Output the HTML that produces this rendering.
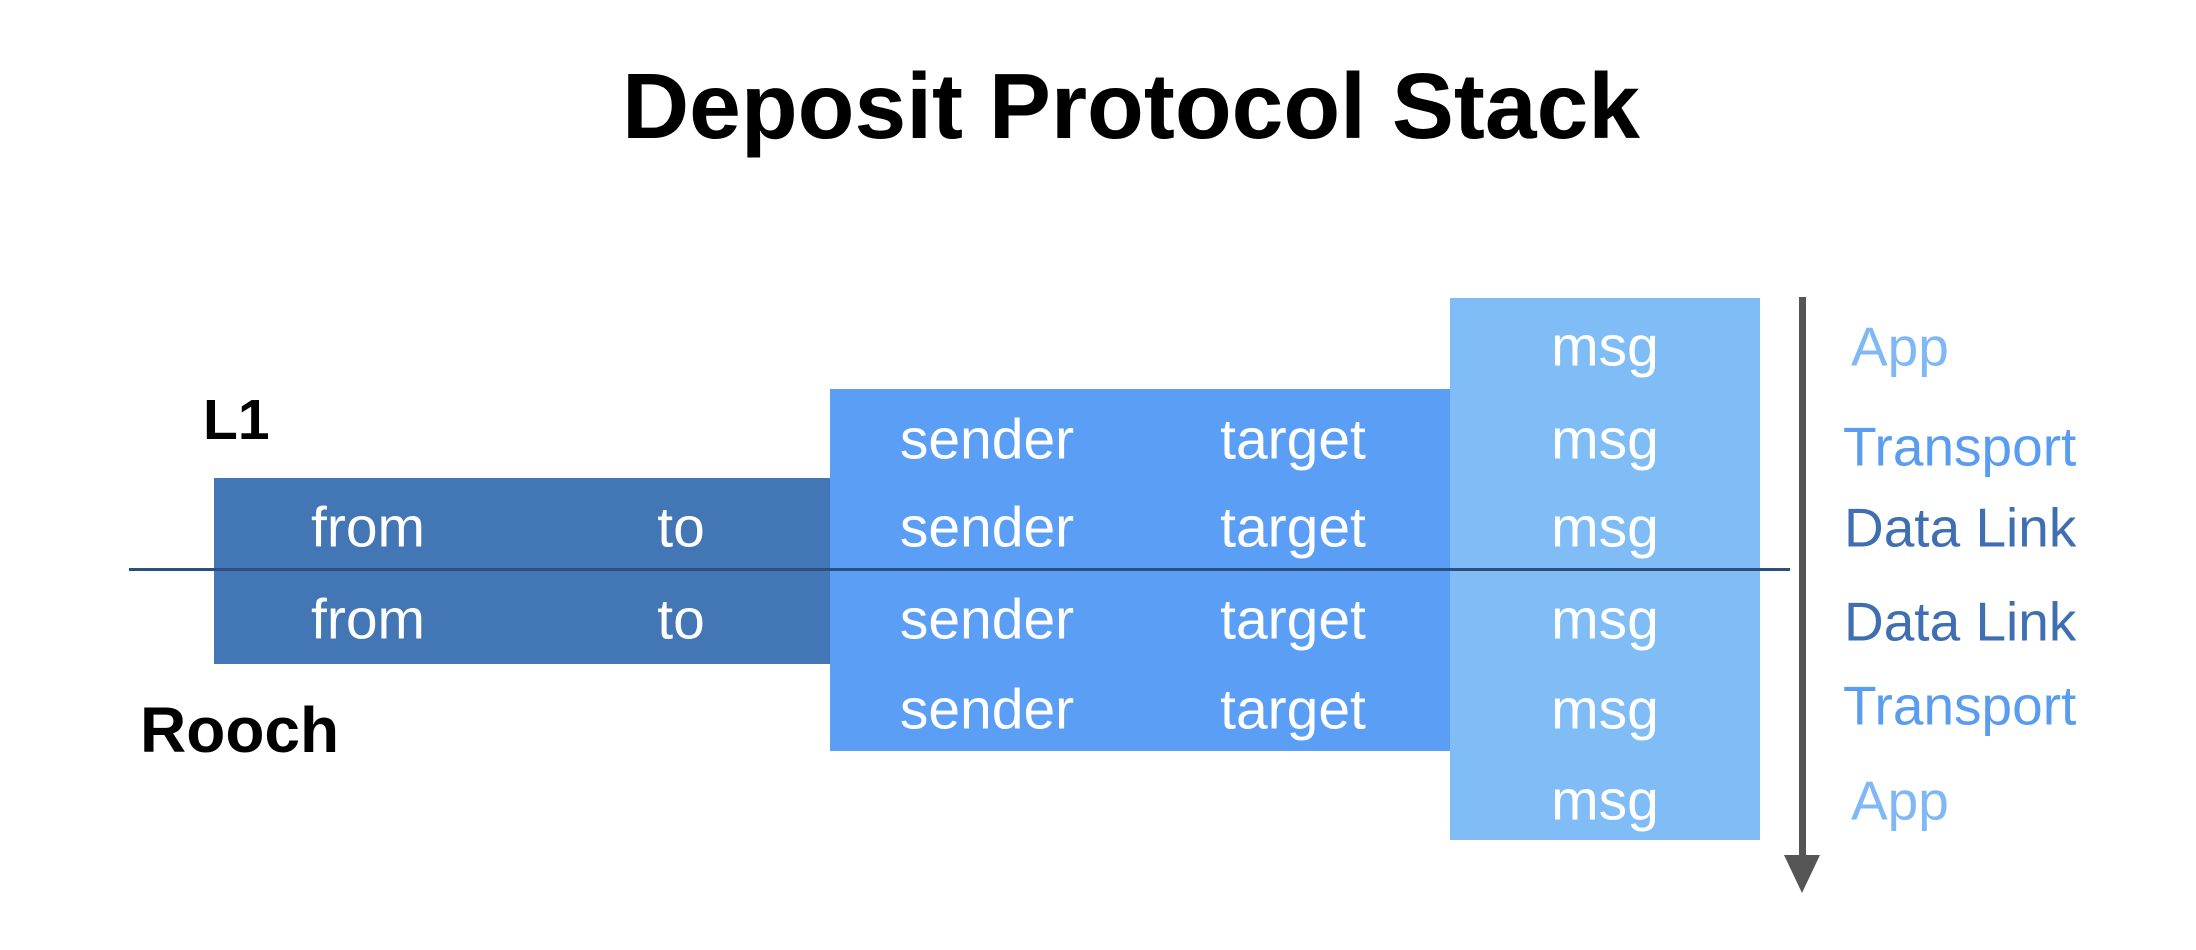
<!DOCTYPE html>
<html><head><meta charset="utf-8"><style>
body{margin:0;width:2196px;height:950px;background:#fff;position:relative;overflow:hidden;font-family:"Liberation Sans",Arial,sans-serif}
div{position:absolute}
.b{position:absolute}
.t{position:absolute;color:#fff;font-size:57px;transform:translate(-50%,-50%);white-space:nowrap;line-height:1}
.r{position:absolute;font-size:55px;transform:translateY(-50%);white-space:nowrap;line-height:1}
</style></head><body>
<div style="left:0;width:2196px;top:56px;text-align:center;font-weight:bold;font-size:93px;line-height:100px;padding-left:66px;box-sizing:border-box">Deposit Protocol Stack</div>
<div style="left:203px;top:390px;font-weight:bold;font-size:57px;line-height:60px">L1</div>
<div style="left:140px;top:699px;font-weight:bold;font-size:64px;line-height:62px">Rooch</div>

<div class="b" style="left:214px;top:478px;width:616px;height:186px;background:#4276b5"></div>
<div class="b" style="left:830px;top:389px;width:620px;height:362px;background:#5b9ef5"></div>
<div class="b" style="left:1450px;top:298px;width:310px;height:542px;background:#80bdf7"></div>
<div class="b" style="left:129px;top:568px;width:1661px;height:3px;background:#2a4f80"></div>

<div class="b" style="left:1799px;top:297px;width:7px;height:570px;background:#555"></div>
<svg style="position:absolute;left:1784px;top:855px" width="36" height="40"><polygon points="0,0 36,0 18,38" fill="#555"/></svg>

<div class="t" style="left:368px;top:528px">from</div>
<div class="t" style="left:681px;top:528px">to</div>
<div class="t" style="left:368px;top:620px">from</div>
<div class="t" style="left:681px;top:620px">to</div>

<div class="t" style="left:987px;top:440px">sender</div>
<div class="t" style="left:1293px;top:440px">target</div>
<div class="t" style="left:987px;top:528px">sender</div>
<div class="t" style="left:1293px;top:528px">target</div>
<div class="t" style="left:987px;top:620px">sender</div>
<div class="t" style="left:1293px;top:620px">target</div>
<div class="t" style="left:987px;top:710px">sender</div>
<div class="t" style="left:1293px;top:710px">target</div>

<div class="t" style="left:1605px;top:347px">msg</div>
<div class="t" style="left:1605px;top:440px">msg</div>
<div class="t" style="left:1605px;top:528px">msg</div>
<div class="t" style="left:1605px;top:620px">msg</div>
<div class="t" style="left:1605px;top:710px">msg</div>
<div class="t" style="left:1605px;top:801px">msg</div>

<div class="r" style="left:1851px;top:347px;color:#7fb8f5">App</div>
<div class="r" style="left:1843px;top:447px;color:#5a9cf0">Transport</div>
<div class="r" style="left:1844px;top:528px;color:#3f6fb0">Data Link</div>
<div class="r" style="left:1844px;top:622px;color:#3f6fb0">Data Link</div>
<div class="r" style="left:1843px;top:706px;color:#5a9cf0">Transport</div>
<div class="r" style="left:1851px;top:801px;color:#7fb8f5">App</div>
</body></html>
